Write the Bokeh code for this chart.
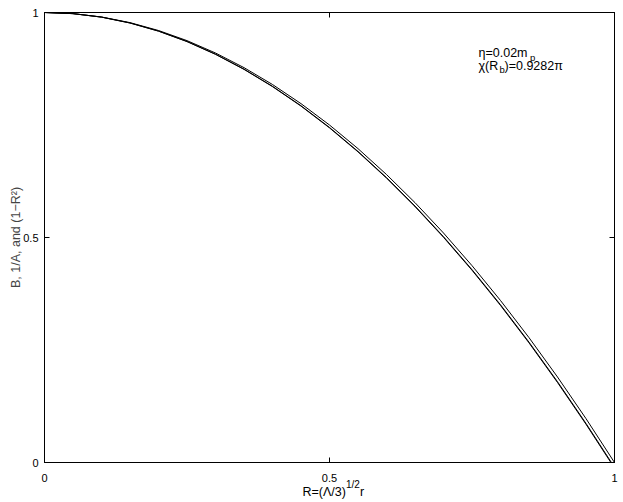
from bokeh.plotting import figure
from bokeh.models import LinearAxis, Label, FixedTicker, Range1d
from bokeh.embed import file_html
from bokeh.resources import INLINE

# ---- data ----
R_vals = [0.0, 0.05, 0.1, 0.15, 0.2, 0.25, 0.3, 0.35, 0.4, 0.45, 0.5,
          0.55, 0.6, 0.65, 0.7, 0.75, 0.8, 0.85, 0.9, 0.95, 1.0]
one_minus_R2 = [1.0, 0.9975, 0.99, 0.9775, 0.96, 0.9375, 0.91, 0.8775, 0.84, 0.7975, 0.75,
                0.6975, 0.64, 0.5775, 0.51, 0.4375, 0.36, 0.2775, 0.19, 0.0975, 0.0]
inv_A = [1.0, 0.9975, 0.9898, 0.9768, 0.9588, 0.9357, 0.9075, 0.8742, 0.8360, 0.7928, 0.7445,
         0.6913, 0.6331, 0.5699, 0.5018, 0.4286, 0.3505, 0.2674, 0.1795, 0.0868, -0.0105]
B_vals = [1.0, 0.9975, 0.9897, 0.9766, 0.9585, 0.9353, 0.9070, 0.8736, 0.8353, 0.7920, 0.7436,
          0.6903, 0.6320, 0.5687, 0.5005, 0.4272, 0.3490, 0.2658, 0.1778, 0.0850, -0.0125]
ticks = [0, 0.5, 1]
tick_labels = {0: "0", 0.5: "0.5", 1: "1"}
y_title = "B, 1/A, and (1−R²)"
x_title_main = "R=(Λ/3)"
x_title_sup = "1/2"
x_title_end = "r"

FONT = "Liberation Sans"

p = figure(width=623, height=502, output_backend="svg", toolbar_location=None,
           x_range=Range1d(0, 1), y_range=Range1d(0, 1),
           min_border_left=44, min_border_right=9, min_border_top=12, min_border_bottom=40,
           x_axis_location=None, y_axis_location=None)
p.grid.visible = False
p.outline_line_color = "black"
p.outline_line_width = 1
p.background_fill_color = "white"
p.border_fill_color = "white"

for yv in (one_minus_R2, inv_A, B_vals):
    p.line(R_vals, yv, line_color="black", line_width=1)

def make_axis(labels, standoff):
    ax = LinearAxis(ticker=FixedTicker(ticks=ticks), minor_tick_line_color=None,
                    major_tick_in=5, major_tick_out=0,
                    axis_line_color="black", major_tick_line_color="black",
                    major_label_text_font=FONT, major_label_text_font_size="11px",
                    major_label_text_color="black", major_label_standoff=standoff)
    ax.major_label_overrides = labels
    return ax

xb = make_axis(tick_labels, 11)
p.add_layout(xb, "below")
yl = make_axis(tick_labels, 6)
yl.axis_label = y_title
yl.axis_label_text_font = FONT
yl.axis_label_text_font_size = "12.5px"
yl.axis_label_text_font_style = "normal"
yl.axis_label_standoff = -3
p.add_layout(yl, "left")
empty = {t: "" for t in ticks}
p.add_layout(make_axis(empty, 0), "above")
p.add_layout(make_axis(empty, 0), "right")

# x-axis title built from text-only axes (superscript row, then main row)
main_pos = 0.4907
sup_pos = 0.5411
end_pos = 0.5570
ax_sup = LinearAxis(ticker=FixedTicker(ticks=[sup_pos]), axis_line_color=None,
                    major_tick_line_color=None, minor_tick_line_color=None,
                    major_tick_in=0, major_tick_out=0,
                    major_label_text_font=FONT, major_label_text_font_size="10px",
                    major_label_text_color="black", major_label_standoff=-6)
ax_sup.major_label_overrides = {sup_pos: x_title_sup}
p.add_layout(ax_sup, "below")
ax_main = LinearAxis(ticker=FixedTicker(ticks=[main_pos, end_pos]), axis_line_color=None,
                     major_tick_line_color=None, minor_tick_line_color=None,
                     major_tick_in=0, major_tick_out=0,
                     major_label_text_font=FONT, major_label_text_font_size="12.5px",
                     major_label_text_color="black", major_label_standoff=-8)
ax_main.major_label_overrides = {main_pos: x_title_main, end_pos: x_title_end}
p.add_layout(ax_main, "below")

def lab(text, x, y, size):
    p.add_layout(Label(x=x, y=y, text=text, text_font=FONT, text_font_size=size,
                       text_color="black", text_align="left",
                       text_baseline="alphabetic"))

# annotation
lab("η=0.02m", 0.7614, 0.9111, "12.5px")
lab("p", 0.8518, 0.90, "9.5px")
lab("χ(R", 0.7614, 0.8822, "12.5px")
lab("b", 0.7982, 0.8733, "9.5px")
lab(")=0.9282π", 0.807, 0.8822, "12.5px")

open("out.html", "w").write(file_html(p, INLINE))
